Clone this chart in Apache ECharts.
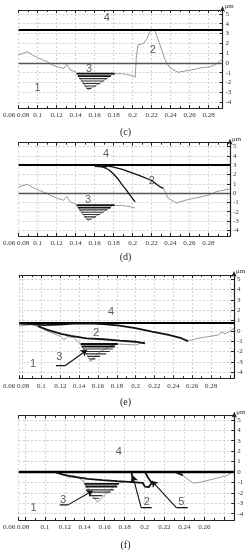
<!DOCTYPE html>
<html><head><meta charset="utf-8">
<script src="https://cdn.jsdelivr.net/npm/echarts@6/dist/echarts.min.js"></script>
<style>html,body{margin:0;padding:0;background:#fff}#c{width:251px;height:550px}</style>
</head><body><div id="c"></div>
<script>
// ---------- data ----------
const panels = ['(c)', '(d)', '(e)', '(f)'];
const xMin = [0.08, 0.08, 0.0764, 0.0738];
const xMax = [0.2945, 0.3027, 0.3044, 0.290];
const xLastLabel = [0.28, 0.28, 0.28, 0.26];
const xFirstLabel = '0.06 0.08';
const yMin = -4.6, yMax = 5.4;
const yUnit = 'μm';
const level4 = [3.35, 3.0, 0.75, 0.0];
const zeroLines = [0, 0, null, null];

// gray surface profiles (x mm, height μm)
const profC = [[0.080,0.8],[0.0844,0.98],[0.0895,1.14],[0.0947,0.8],[0.1016,0.47],[0.1102,0.12],[0.1153,-0.21],[0.1205,-0.39],[0.1274,-0.55],[0.1308,-0.14],[0.1343,-0.72],[0.1395,-0.9],[0.1412,-1.06],[0.147,-1.9],[0.1532,-2.75],[0.1584,-2.45],[0.1652,-2.08],[0.1755,-1.4],[0.1789,-1.13],[0.181,-1.1],[0.1893,-1.1],[0.1975,-1.25],[0.2027,-1.45],[0.2037,0.47],[0.2055,1.83],[0.2117,2.0],[0.2151,2.5],[0.2195,3.46],[0.2236,3.26],[0.2288,1.83],[0.2341,0.3],[0.2391,-0.49],[0.2477,-0.96],[0.2615,-0.72],[0.2718,-0.5],[0.2821,-0.39],[0.2873,-0.15],[0.2914,0.15],[0.2945,0.4]];
const profD1 = [[0.080,0.65],[0.0844,0.8],[0.0895,0.94],[0.0947,0.6],[0.1016,0.3],[0.1102,-0.05],[0.1153,-0.34],[0.1205,-0.55],[0.1274,-0.77],[0.1308,-0.34],[0.1343,-0.95],[0.1395,-1.15],[0.1412,-1.3],[0.147,-2.1],[0.1532,-2.95],[0.1584,-2.65],[0.1652,-2.25],[0.1755,-1.6],[0.1789,-1.33],[0.181,-1.3],[0.1893,-1.32],[0.1975,-1.45],[0.2027,-1.6]];
const profD2 = [[0.2326,0.5],[0.2374,-0.53],[0.246,-1.06],[0.258,-0.7],[0.2749,-0.35],[0.2821,-0.14],[0.289,0.18],[0.3025,0.43]];
const profE1 = [[0.0764,0.46],[0.0909,0.63],[0.0961,0.4],[0.1002,0.24],[0.1085,-0.12],[0.1209,-0.57],[0.124,-0.89],[0.1271,-0.57],[0.1344,-0.65],[0.1416,-1.28],[0.1468,-2.05],[0.152,-2.99],[0.1582,-2.34],[0.1655,-1.86],[0.1738,-1.47],[0.181,-1.28],[0.1914,-1.33],[0.1997,-1.37],[0.2069,-1.15],[0.21,-0.96]];
const profE2 = [[0.2556,-0.99],[0.266,-0.73],[0.2763,-0.57],[0.2877,-0.41],[0.2918,-0.12],[0.2949,-0.31],[0.3001,-0.02],[0.3044,0.24]];
const profF1 = [[0.1101,0],[0.1163,-0.2],[0.1212,-0.35],[0.1249,-0.55],[0.1282,-0.3],[0.1331,-0.5],[0.1397,-0.97],[0.1459,-2.0],[0.1528,-2.9],[0.1578,-2.4],[0.1647,-1.8],[0.1726,-1.07],[0.1795,-1.0]];
const profF2 = [[0.2302,0],[0.2385,-0.34],[0.245,-0.82],[0.2493,-1.07],[0.2566,-0.97],[0.2697,-0.65],[0.2829,-0.34],[0.2879,0]];

// black curves (2)
const curveDA = [[0.1604,3.0],[0.1687,2.8],[0.1749,2.5],[0.18,2.05],[0.1852,1.45],[0.1893,0.85],[0.1934,0.35],[0.1965,-0.1],[0.2027,-0.95]];
const curveDB = [[0.1666,3.0],[0.179,2.8],[0.1893,2.55],[0.2068,1.9],[0.2202,1.35],[0.2285,0.7],[0.2326,0.5]];
const wedgeD = [[0.1604,2.92],[0.1728,2.85]];
const upperE = [[0.0764,0.7],[0.0878,0.65],[0.1033,0.55],[0.1189,0.6],[0.1344,0.7],[0.1499,0.72],[0.1655,0.65],[0.181,0.52],[0.1997,0.25],[0.2173,-0.08],[0.2349,-0.4],[0.2484,-0.72],[0.2556,-1.0]];
const lowerE = [[0.0961,0.46],[0.1064,0.08],[0.1209,-0.31],[0.1313,-0.5],[0.1479,-0.73],[0.1655,-0.82],[0.1831,-0.96],[0.1997,-1.06],[0.21,-1.21]];
const blackF = [[0.1104,0],[0.1183,-0.25],[0.1281,-0.45],[0.143,-0.65],[0.1578,-0.78],[0.1726,-0.88],[0.1874,-0.97],[0.1983,-1.05],[0.2003,-1.4],[0.2042,-1.45],[0.2072,-1.05],[0.2033,-0.5],[0.2005,0]];
const vertF = [[0.1869,0],[0.1884,-0.95]];
const smallF = [[0.2302,0],[0.2385,-0.3]];

// hatched area (3): [level, xLeft, xRight]
const hatchC = [[-1.1,0.1412,0.181],[-1.35,0.1425,0.177],[-1.6,0.1438,0.1732],[-1.85,0.1455,0.1694],[-2.1,0.1472,0.1657],[-2.35,0.149,0.1615],[-2.6,0.1515,0.1565]];
const hatchD = [[-1.3,0.1412,0.181],[-1.55,0.1425,0.177],[-1.8,0.1438,0.1732],[-2.05,0.1455,0.1694],[-2.3,0.1472,0.1657],[-2.55,0.149,0.1615],[-2.8,0.1515,0.1565]];
const hatchE = [[-1.28,0.1416,0.181],[-1.52,0.1427,0.1779],[-1.76,0.1437,0.1758],[-2.0,0.1458,0.1727],[-2.24,0.1468,0.1686],[-2.48,0.1489,0.1624],[-2.72,0.151,0.1572]];
const hatchF = [[-1.13,0.1397,0.1743],[-1.39,0.1407,0.1726],[-1.71,0.1413,0.1693],[-1.93,0.143,0.166],[-2.26,0.1452,0.1578],[-2.51,0.1479,0.1545]];

// numbered labels: [text, x, y]
const labelsC = [['4',0.1728,4.55],['2',0.2213,1.32],['3',0.1542,-0.62],['1',0.0999,-2.59]];
const labelsD = [['4',0.1721,4.16],['2',0.2202,1.3],['3',0.1532,-0.74]];
const labelsE = [['4',0.174,1.85],['2',0.1579,-0.18],['3',0.1189,-2.57],['1',0.0912,-3.21]];
const labelsF = [['4',0.1743,1.95],['3',0.1183,-2.64],['2',0.2022,-2.85],['5',0.2368,-2.85],['1',0.0886,-3.48]];

// leader lines (last segment has arrow)
const leadersE = [[[0.1154,-3.38],[0.1251,-3.38],[0.1482,-1.86]]];
const leadersF = [[[0.115,-3.15],[0.1232,-3.15],[0.1479,-1.8]],[[0.2072,-3.41],[0.1966,-3.41],[0.1881,-0.34]],[[0.2434,-3.41],[0.2319,-3.41],[0.2072,-0.85]]];

// ---------- layout ----------
const grids = [
  {left:14, top:10, width:208.5, height:98},
  {left:14, top:142.7, width:216, height:93.3},
  {left:14, top:275, width:220, height:103.3},
  {left:15, top:415.7, width:219.3, height:104.3}
];
const firstPad = [5, 5, 13, 17.5];
const captionTop = [122, 247, 392, 535];
const SERIF = 'Liberation Serif', SANS = 'Liberation Sans';

const profiles = [[profC],[profD1,profD2],[profE1,profE2],[profF1,profF2]];
const blacks = [[], [curveDA, curveDB], [upperE, lowerE], [blackF, vertF, smallF]];
const wedges = [[], [wedgeD], [], []];
const hatches = [hatchC, hatchD, hatchE, hatchF];
const labels = [labelsC, labelsD, labelsE, labelsF];
const leaders = [[], [], leadersE, leadersF];

function xAx(p, top) {
  return {
    gridIndex: p, type: 'value', position: top ? 'top' : 'bottom',
    min: xMin[p], max: xMax[p], splitNumber: 11, minInterval: 0.02, maxInterval: 0.02,
    axisLine: {show: true, onZero: false, lineStyle: {color: '#222', width: 1.2}},
    axisTick: {show: true, inside: true, length: 3, lineStyle: {color: '#222', width: 1}},
    minorTick: {show: true, splitNumber: 2, length: 2, lineStyle: {color: '#222', width: 1}},
    axisLabel: {
      show: !top, margin: 4, fontSize: 7, fontFamily: SERIF, color: '#333',
      formatter: function (v) {
        const r = Math.round(v * 100) / 100;
        if (Math.abs(v - r) > 1e-6) return '';
        const k = Math.round(r * 100);
        if (k % 2 !== 0 || r > xLastLabel[p] + 1e-6) return '';
        if (k === 8) return '{m|' + xFirstLabel + '}';
        return String(r);
      },
      rich: {m: {fontSize: 7, fontFamily: SERIF, color: '#333', padding: [0, firstPad[p], 0, 0]}}
    },
    splitLine: {show: !top, lineStyle: {type: [2, 2], color: '#c4c4c4', width: 0.8}}
  };
}
function yAx(p) {
  return {
    gridIndex: p, type: 'value', position: 'right', min: yMin, max: yMax,
    splitNumber: 10, minInterval: 1, maxInterval: 1,
    axisLine: {show: true, onZero: false, lineStyle: {color: '#222', width: 1.2}, symbol: ['none', 'arrow'], symbolSize: [4, 6], symbolOffset: [0, 4]},
    axisTick: {show: true, inside: true, length: 3, lineStyle: {color: '#222'}},
    axisLabel: {margin: 3, fontSize: 7, fontFamily: SERIF, color: '#333',
      formatter: function (v) { return Math.abs(v - Math.round(v)) < 1e-6 ? String(Math.round(v)) : ''; }},
    splitLine: {show: true, lineStyle: {type: [2, 2], color: '#c4c4c4', width: 0.8}},
    name: yUnit, nameLocation: 'end', nameGap: 4,
    nameTextStyle: {fontSize: 7, fontFamily: SERIF, color: '#333', align: 'left', verticalAlign: 'middle', padding: [0, 0, 0, 2]}
  };
}

const xAxis = [], yAxis = [], series = [];
for (let p = 0; p < 4; p++) {
  xAxis.push(xAx(p, false));
  xAxis.push(xAx(p, true));
  yAxis.push(yAx(p));
  const xi = 2 * p, yi = p;
  const ml = [{yAxis: level4[p], lineStyle: {color: '#000', width: p === 3 ? 2.4 : 2, type: 'solid'}}];
  if (zeroLines[p] !== null) ml.push({yAxis: zeroLines[p], lineStyle: {color: '#555', width: 1.4, type: 'solid'}});
  profiles[p].forEach((d, i) => {
    const s = {type: 'line', xAxisIndex: xi, yAxisIndex: yi, data: d, symbol: 'none', silent: true,
      lineStyle: {color: '#9a9a9a', width: 1}, z: 3};
    if (i === 0) s.markLine = {silent: true, symbol: ['none', 'none'], label: {show: false}, data: ml, z: 4};
    series.push(s);
  });
  hatches[p].forEach((h, i) => {
    series.push({type: 'line', xAxisIndex: xi, yAxisIndex: yi, data: [[h[1], h[0]], [h[2], h[0]]], symbol: 'none', silent: true,
      lineStyle: {color: i < 2 ? '#111' : '#333', width: i < 2 ? 1.8 : 1.1}, z: 4});
  });
  blacks[p].forEach(d => {
    series.push({type: 'line', xAxisIndex: xi, yAxisIndex: yi, data: d, symbol: 'none', silent: true,
      lineStyle: {color: '#111', width: p === 1 ? 1.3 : 1.8}, z: 5});
  });
  wedges[p].forEach(d => {
    series.push({type: 'line', xAxisIndex: xi, yAxisIndex: yi, data: d, symbol: 'none', silent: true,
      lineStyle: {color: '#111', width: 2.5}, z: 5});
  });
  leaders[p].forEach(L => {
    series.push({type: 'line', xAxisIndex: xi, yAxisIndex: yi, data: L.slice(0, 2), symbol: 'none', silent: true,
      lineStyle: {color: '#111', width: 1.3}, z: 6});
    series.push({type: 'lines', coordinateSystem: 'cartesian2d', xAxisIndex: xi, yAxisIndex: yi, silent: true,
      symbol: ['none', 'arrow'], symbolSize: 6, lineStyle: {color: '#111', width: 1.1, opacity: 1},
      data: [{coords: [L[1], L[2]]}], z: 6});
  });
  series.push({type: 'scatter', xAxisIndex: xi, yAxisIndex: yi, symbolSize: 1, silent: true,
    itemStyle: {color: 'rgba(0,0,0,0)'},
    label: {show: true, position: 'inside', formatter: '{b}', fontSize: 11, fontFamily: SANS, color: '#333'},
    data: labels[p].map(l => ({name: l[0], value: [l[1], l[2]]})), z: 7});
}

const chart = echarts.init(document.getElementById('c'), null, {renderer: 'canvas'});
chart.setOption({
  animation: false,
  backgroundColor: '#fff',
  title: panels.map((t, i) => ({text: t, left: 'center', top: captionTop[i],
    textStyle: {fontFamily: SERIF, fontSize: 10, fontWeight: 'normal', color: '#222'}})),
  grid: grids.map(g => Object.assign({containLabel: false}, g)),
  xAxis: xAxis, yAxis: yAxis, series: series
});
</script></body></html>
